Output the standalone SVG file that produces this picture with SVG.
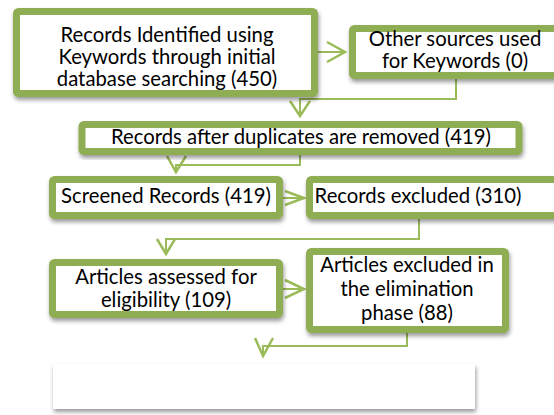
<svg xmlns="http://www.w3.org/2000/svg" width="554" height="415" viewBox="0 0 554 415">
<defs>
<filter id="sh" x="-10%" y="-20%" width="120%" height="150%">
<feDropShadow dx="1" dy="3" stdDeviation="2" flood-color="#000" flood-opacity="0.4"/>
</filter>
</defs>
<style>
.box{fill:#fff;stroke:#8fad52;stroke-width:7;filter:url(#sh)}
.t{font-family:Lato,"Liberation Sans",sans-serif;font-size:20.3px;fill:#000;text-anchor:middle}
.c{fill:none;stroke:#9bbb59;stroke-width:2}
.h{fill:none;stroke:#9bbb59;stroke-width:2.5;stroke-linejoin:miter}
</style>
<rect width="554" height="415" fill="#fff"/>
<g id="connectors">
<path class="c" d="M318,52H344"/>
<path class="h" d="M327,42L345,52L327,62"/>
<path class="c" d="M456,79V99H300V114"/>
<path class="h" d="M290,101L300,116L310,101"/>
<path class="c" d="M300,155V165H176V170"/>
<path class="h" d="M167,156L176,172L186,156"/>
<path class="c" d="M283,198H303"/>
<path class="h" d="M285,191L304,198L285,205"/>
<path class="c" d="M419,219V239H166V252"/>
<path class="h" d="M157,239L166,254L175,239"/>
<path class="c" d="M283,289H303"/>
<path class="h" d="M285,280L304,289L285,298"/>
<path class="c" d="M407,333V346H263V354"/>
<path class="h" d="M255,338L263,356L273,338"/>
</g>
<g id="n1">
<rect class="box" x="16.5" y="11.5" width="298" height="82" rx="2"/>
<text class="t" x="167" y="42">Records Identified using</text>
<text class="t" x="167" y="64">Keywords through initial</text>
<text class="t" x="167" y="86">database searching (450)</text>
</g>
<g id="n2">
<rect class="box" x="352.5" y="28.5" width="207" height="47" rx="2"/>
<text class="t" x="455" y="46">Other sources used</text>
<text class="t" x="455" y="68">for Keywords (0)</text>
</g>
<g id="n3">
<rect class="box" x="82" y="124.5" width="437" height="27" rx="2"/>
<text class="t" x="301" y="144">Records after duplicates are removed (419)</text>
</g>
<g id="n4">
<rect class="box" x="52.5" y="179.5" width="227" height="36" rx="2"/>
<text class="t" x="166" y="203">Screened Records (419)</text>
</g>
<g id="n5">
<rect class="box" x="309.5" y="179.5" width="260" height="36" rx="2"/>
<text class="t" x="418" y="203">Records excluded (310)</text>
</g>
<g id="n6">
<rect class="box" x="52.5" y="262.5" width="227" height="52" rx="2"/>
<text class="t" x="166" y="284">Articles assessed for</text>
<text class="t" x="166" y="307">eligibility (109)</text>
</g>
<g id="n7">
<rect class="box" x="309.5" y="251.5" width="196" height="78" rx="2"/>
<text class="t" x="407" y="272">Articles excluded in</text>
<text class="t" x="407" y="296">the elimination</text>
<text class="t" x="407" y="320">phase (88)</text>
</g>
<g id="n8">
<rect x="53" y="364" width="422" height="45" fill="#fff" filter="url(#sh)"/>
</g>
</svg>
